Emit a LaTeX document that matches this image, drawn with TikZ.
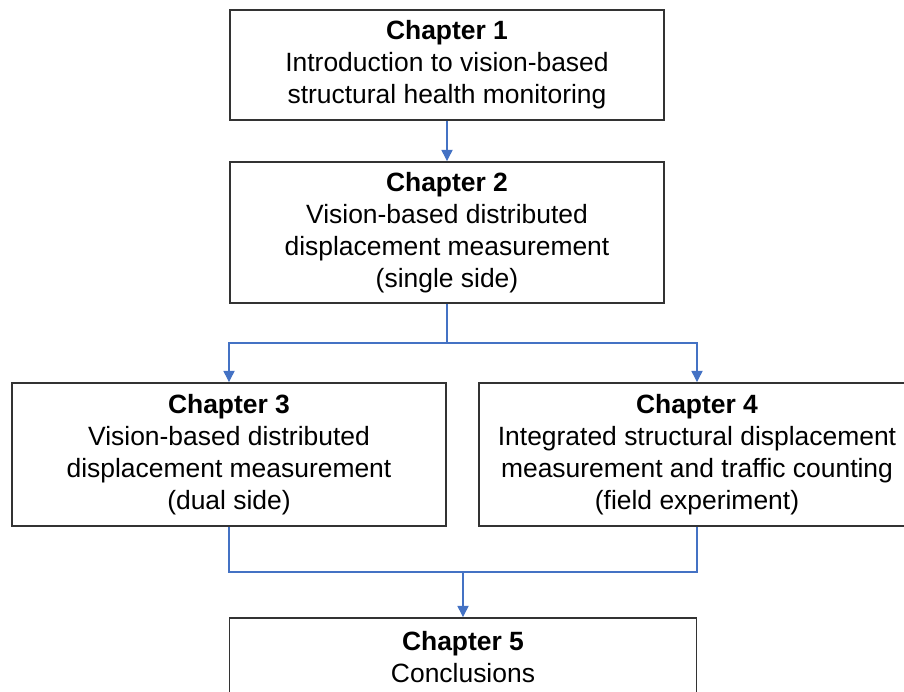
\documentclass[tikz,border=0pt]{standalone}
\usepackage{fontspec}
\setmainfont{Liberation Sans}
\usetikzlibrary{arrows.meta}

\begin{document}
\begin{tikzpicture}[x=0.025cm, y=-0.025cm,
    chapterBox/.style={draw=boxColour, line width=1.3pt, align=center, inner sep=0pt,
        font=\fontsize{18.8}{22.7}\selectfont, minimum width=10.85cm},
    link/.style={draw=linkColour, line width=0.8pt},
    linkArrow/.style={link, -{Triangle[length=0.28cm, width=0.28cm]}}]
    % Define colours
    \definecolor{boxColour}{HTML}{333333}
    \definecolor{linkColour}{HTML}{4472C4}

    % Fix the page size and cut off what lies outside
    \useasboundingbox (0,0) rectangle (904,692);
    \clip (0,0) rectangle (904,692);

    % Draw the chapter boxes
    \node[chapterBox, minimum height=2.75cm] (ch1) at (447,65)
        {\textbf{Chapter 1}\\Introduction to vision-based\\structural health monitoring};
    \node[chapterBox, minimum height=3.525cm] (ch2) at (447,232.5)
        {\textbf{Chapter 2}\\Vision-based distributed\\displacement measurement\\(single side)};
    \node[chapterBox, minimum height=3.575cm] (ch3) at (229,454.5)
        {\textbf{Chapter 3}\\Vision-based distributed\\displacement measurement\\(dual side)};
    \node[chapterBox, minimum height=3.575cm, minimum width=10.9cm] (ch4) at (697,454.5)
        {\textbf{Chapter 4}\\Integrated structural displacement\\measurement and traffic counting\\(field experiment)};
    \node[chapterBox, minimum height=1.95cm, minimum width=11.675cm] (ch5) at (463,657)
        {\textbf{Chapter 5}\\Conclusions};

    % Define the branching points
    \coordinate (split) at (447,343);
    \coordinate (merge) at (463,572);

    % Draw the connectors
    \draw[linkArrow] (ch1.south) -- (ch2.north);
    \draw[link] (ch2.south) -- (split);
    \draw[linkArrow] (split) -| (ch3.north);
    \draw[linkArrow] (split) -| (ch4.north);
    \draw[link] (ch3.south) |- (merge);
    \draw[link] (ch4.south) |- (merge);
    \draw[linkArrow] (merge) -- (ch5.north);

\end{tikzpicture}
\end{document}
